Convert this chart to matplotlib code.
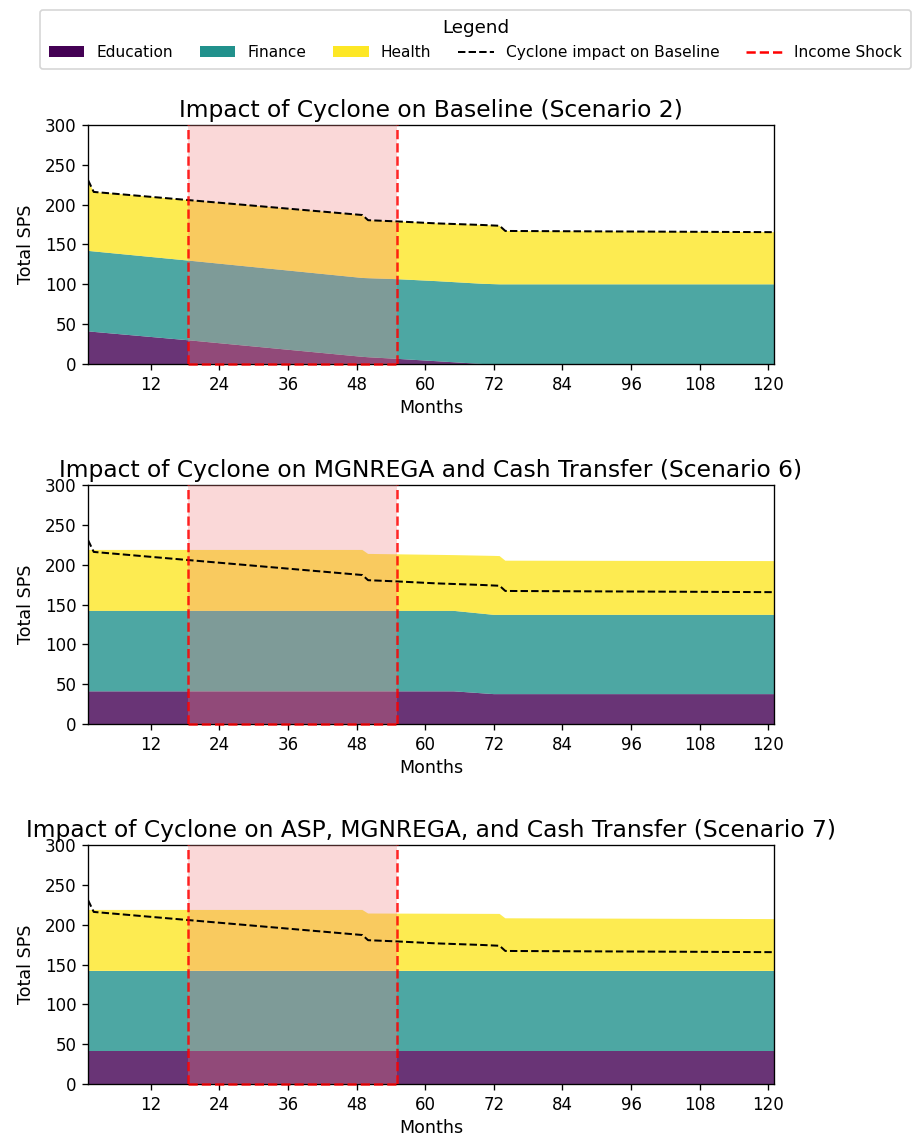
import matplotlib
matplotlib.use("Agg")
import matplotlib.pyplot as plt
from matplotlib.patches import Patch
from matplotlib.lines import Line2D

# --- Data -----------------------------------------------------------------
# Baseline total under cyclone (dashed reference line, same on every panel)
baseline_months = [1, 2, 19, 49, 50, 55, 62, 70, 73, 74, 121]
baseline_total = [231, 216, 205.5, 187, 180.5, 179, 176.5, 174.5, 173.5, 167, 165.5]

# Scenario 2: Baseline
s2_months = [1, 2, 19, 49, 50, 55, 62, 70, 73, 74, 121]
s2_education = [41, 40.3, 29.5, 9, 8.5, 6.5, 3.5, 0, 0, 0, 0]
s2_finance = [101, 101, 100, 99, 99.2, 100, 100.5, 100.7, 100, 100, 100]
s2_health = [89, 74.7, 76, 79, 72.8, 72.5, 72.5, 73.8, 73.5, 67, 65.5]

# Scenario 6: MGNREGA and Cash Transfer
s6_months = [1, 49, 50, 65, 72, 73, 74, 121]
s6_education = [41, 41, 41, 41, 37.5, 37.5, 37.5, 37.5]
s6_finance = [101, 101, 101, 101, 99.5, 99.5, 99.5, 99.5]
s6_health = [76.5, 76.5, 71.5, 70, 74, 73.8, 68, 67.5]

# Scenario 7: ASP, MGNREGA, and Cash Transfer
s7_months = [1, 49, 50, 73, 74, 121]
s7_education = [41, 41, 41, 41, 41, 41]
s7_finance = [101, 101, 101, 101, 101, 101]
s7_health = [76.5, 76.5, 72, 71.5, 66, 65]

shock_start, shock_end = 18.5, 55
categories = ["Education", "Finance", "Health"]
panel_titles = [
    "Impact of Cyclone on Baseline (Scenario 2)",
    "Impact of Cyclone on MGNREGA and Cash Transfer (Scenario 6)",
    "Impact of Cyclone on ASP, MGNREGA, and Cash Transfer (Scenario 7)",
]
x_ticks = [12, 24, 36, 48, 60, 72, 84, 96, 108, 120]
y_ticks = [0, 50, 100, 150, 200, 250, 300]

# --- Plot -----------------------------------------------------------------
colors = ["#440154", "#21918c", "#fde725"]
W, H, DPI = 918, 1141, 120
fig = plt.figure(figsize=(W / DPI, H / DPI), dpi=DPI)

panels = [
    (s2_months, [s2_education, s2_finance, s2_health]),
    (s6_months, [s6_education, s6_finance, s6_health]),
    (s7_months, [s7_education, s7_finance, s7_health]),
]
axes_px = [(88, 125, 774, 364), (88, 485, 774, 724), (88, 845, 774, 1084)]

for (months, series), title, (l, t, r, b) in zip(panels, panel_titles, axes_px):
    ax = fig.add_axes([l / W, 1 - b / H, (r - l) / W, (b - t) / H])
    ax.stackplot(months, *series, colors=colors, alpha=0.8, labels=categories)
    ax.plot(baseline_months, baseline_total, color="black", linestyle="--",
            linewidth=1.2, zorder=4)
    ax.axvspan(shock_start, shock_end, color="lightcoral", alpha=0.3,
               linewidth=0, zorder=3)
    for xv in (shock_start, shock_end):
        ax.axvline(xv, color="red", linestyle="--", linewidth=1.5, alpha=0.85,
                   zorder=5)
    ax.hlines(0, shock_start, shock_end, colors="red", linestyles="--",
              linewidth=1.5, alpha=0.85, zorder=5, clip_on=False)
    ax.set_xlim(1, 121)
    ax.set_ylim(0, 300)
    ax.set_xticks(x_ticks)
    ax.set_yticks(y_ticks)
    ax.tick_params(labelsize=10)
    ax.set_title(title, fontsize=14, pad=5)
    ax.set_xlabel("Months", fontsize=10.5, labelpad=3)
    ax.set_ylabel("Total SPS", fontsize=10.5, labelpad=6)

handles = [Patch(facecolor=c, label=n) for c, n in zip(colors, categories)]
handles += [
    Line2D([], [], color="black", linestyle="--", linewidth=1.2,
           label="Cyclone impact on Baseline"),
    Line2D([], [], color="red", linestyle="--", linewidth=1.5,
           label="Income Shock"),
]
fig.legend(handles=handles, loc="upper left", ncol=5, title="Legend",
           bbox_to_anchor=(40 / W, 1 - 10 / H), fontsize=9.2,
           title_fontsize=11, frameon=True, handlelength=2.3,
           columnspacing=1.75, borderaxespad=0, borderpad=0.6)

fig.savefig("out.png", dpi=DPI)
